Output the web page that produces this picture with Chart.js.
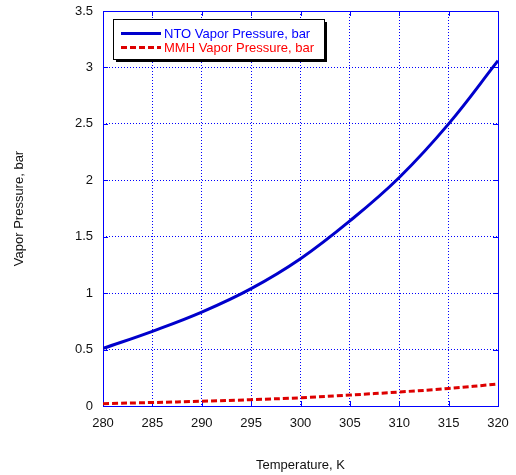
<!DOCTYPE html>
<html>
<head>
<meta charset="utf-8">
<script src="https://cdn.jsdelivr.net/npm/chart.js@4"></script>
<style>
html,body{margin:0;padding:0;background:#fff;}
#wrap{width:516px;height:475px;}
</style>
</head>
<body>
<div id="wrap"><canvas id="c" width="516" height="475"></canvas></div>
<script>
const temperatures = [280, 285, 290, 295, 300, 305, 310, 315, 320];
const ntoPressure = [0.51, 0.662, 0.832, 1.04, 1.305, 1.64, 2.025, 2.50, 3.06];
const mmhPressure = [0.021, 0.031, 0.042, 0.056, 0.073, 0.097, 0.124, 0.155, 0.195];
const xTicks = [280, 285, 290, 295, 300, 305, 310, 315, 320];
const yTicks = [0, 0.5, 1, 1.5, 2, 2.5, 3, 3.5];
const seriesLabels = ['NTO Vapor Pressure, bar', 'MMH Vapor Pressure, bar'];
const xTitle = 'Temperature, K';
const yTitle = 'Vapor Pressure, bar';

const FONT = 'Liberation Sans, Arial, sans-serif';
const FRAME = '#0000ff';

const framePlugin = {
  id: 'frame',
  beforeDatasetsDraw(chart) {
    const {ctx, chartArea: a, scales} = chart;
    ctx.save();
    ctx.strokeStyle = FRAME;
    ctx.lineWidth = 1;
    ctx.setLineDash([]);
    const L = 5;
    ctx.beginPath();
    xTicks.forEach(v => {
      const px = Math.round(scales.x.getPixelForValue(v)) + 0.5;
      ctx.moveTo(px, a.bottom); ctx.lineTo(px, a.bottom - L);
      ctx.moveTo(px, a.top); ctx.lineTo(px, a.top + L);
    });
    yTicks.forEach(v => {
      const py = Math.round(scales.y.getPixelForValue(v)) + 0.5;
      ctx.moveTo(a.left, py); ctx.lineTo(a.left + L, py);
      ctx.moveTo(a.right, py); ctx.lineTo(a.right - L, py);
    });
    ctx.stroke();
    ctx.strokeRect(Math.round(a.left) + 0.5, Math.round(a.top) + 0.5,
      Math.round(a.right - a.left), Math.round(a.bottom - a.top));
    ctx.restore();
  }
};

const legendPlugin = {
  id: 'boxLegend',
  afterDraw(chart) {
    const {ctx} = chart;
    const bx = 113, by = 19, bw = 211, bh = 40;
    ctx.save();
    ctx.fillStyle = '#000';
    ctx.fillRect(bx + 3, by + 3, bw, bh);
    ctx.fillStyle = '#fff';
    ctx.fillRect(bx, by, bw, bh);
    ctx.strokeStyle = '#000';
    ctx.lineWidth = 1;
    ctx.strokeRect(bx + 0.5, by + 0.5, bw, bh);
    ctx.font = '13px ' + FONT;
    ctx.textBaseline = 'middle';
    ctx.textAlign = 'left';
    chart.data.datasets.forEach((ds, i) => {
      const y = 33.5 + i * 14;
      ctx.strokeStyle = ds.borderColor;
      ctx.lineWidth = 3;
      ctx.setLineDash(ds.borderDash || []);
      ctx.beginPath();
      ctx.moveTo(121, y);
      ctx.lineTo(161, y);
      ctx.stroke();
      ctx.setLineDash([]);
      ctx.fillStyle = ds.legendTextColor;
      ctx.fillText(ds.label, 164, y + 0.5);
    });
    ctx.restore();
  }
};

const toPoints = (xs, ys) => xs.map((x, i) => ({x, y: ys[i]}));

new Chart(document.getElementById('c'), {
  type: 'line',
  data: {
    datasets: [
      {
        label: seriesLabels[0],
        data: toPoints(temperatures, ntoPressure),
        borderColor: '#0000cc',
        legendTextColor: '#0000ff',
        borderWidth: 3,
        pointRadius: 0,
        tension: 0.4,
        fill: false
      },
      {
        label: seriesLabels[1],
        data: toPoints(temperatures, mmhPressure),
        borderColor: '#dd0000',
        legendTextColor: '#ff0000',
        borderWidth: 3,
        borderDash: [6, 3],
        pointRadius: 0,
        tension: 0.4,
        fill: false
      }
    ]
  },
  options: {
    responsive: false,
    animation: false,
    devicePixelRatio: 1,
    layout: {padding: {left: 0, top: 11, right: 18, bottom: 0}},
    plugins: {legend: {display: false}, tooltip: {enabled: false}},
    scales: {
      x: {
        type: 'linear',
        min: xTicks[0],
        max: xTicks[xTicks.length - 1],
        afterBuildTicks: s => { s.ticks = xTicks.map(v => ({value: v})); },
        afterFit: s => { s.height = 69; s.paddingLeft = 0; s.paddingRight = 0; },
        ticks: {
          color: '#111',
          font: {family: FONT, size: 13},
          padding: 10,
          maxRotation: 0,
          callback: v => String(v)
        },
        grid: {color: FRAME, lineWidth: 1, drawTicks: false},
        border: {display: false, dash: [1, 2]},
        title: {
          display: true,
          text: xTitle,
          color: '#111',
          font: {family: FONT, size: 13},
          padding: {top: 0, bottom: 2}
        }
      },
      y: {
        type: 'linear',
        min: yTicks[0],
        max: yTicks[yTicks.length - 1],
        afterBuildTicks: s => { s.ticks = yTicks.map(v => ({value: v})); },
        afterFit: s => { s.width = 103; s.paddingTop = 0; s.paddingBottom = 0; },
        ticks: {
          color: '#111',
          font: {family: FONT, size: 13},
          padding: 10,
          callback: v => String(v)
        },
        grid: {color: FRAME, lineWidth: 1, drawTicks: false},
        border: {display: false, dash: [1, 2]},
        title: {
          display: true,
          text: yTitle,
          color: '#111',
          font: {family: FONT, size: 13},
          padding: {top: 12, bottom: 0}
        }
      }
    }
  },
  plugins: [framePlugin, legendPlugin]
});
</script>
</body>
</html>
